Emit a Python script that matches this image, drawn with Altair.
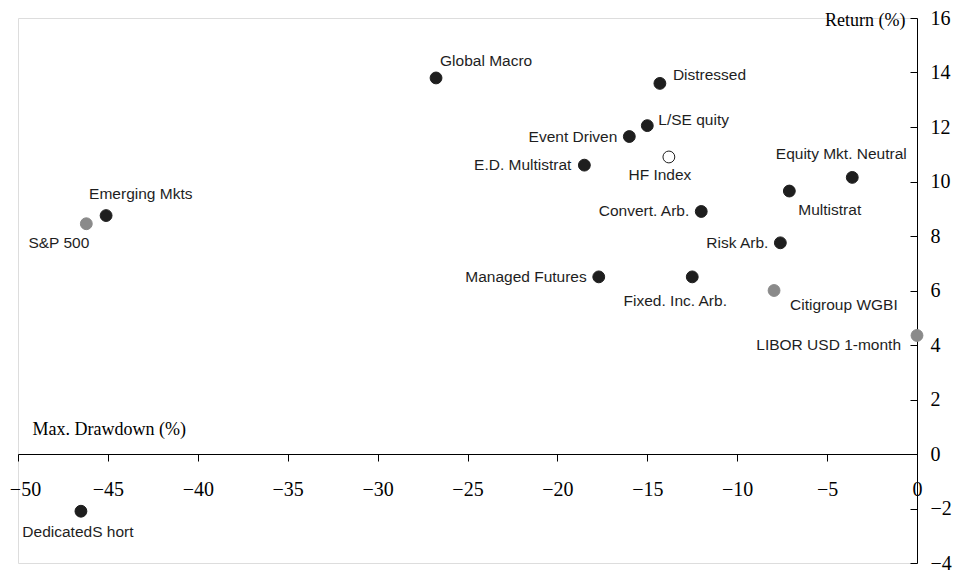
import altair as alt
import pandas as pd

# ---- data ----
names = [
    "Global Macro", "Distressed", "L/SE quity", "Event Driven", "E.D. Multistrat",
    "HF Index", "Convert. Arb.", "Managed Futures", "Fixed. Inc. Arb.", "Risk Arb.",
    "Multistrat", "Equity Mkt. Neutral", "Citigroup WGBI", "LIBOR USD 1-month",
    "Emerging Mkts", "S&P 500", "DedicatedS hort",
]
max_drawdown = [
    -26.75, -14.3, -15.0, -16.0, -18.5,
    -13.8, -12.0, -17.7, -12.5, -7.6,
    -7.1, -3.6, -7.95, 0.0,
    -45.1, -46.2, -46.5,
]
returns = [
    13.8, 13.6, 12.05, 11.65, 10.6,
    10.9, 8.9, 6.5, 6.5, 7.75,
    9.65, 10.15, 6.0, 4.35,
    8.75, 8.45, -2.1,
]
kinds = [
    "strategy", "strategy", "strategy", "strategy", "strategy",
    "index", "strategy", "strategy", "strategy", "strategy",
    "strategy", "strategy", "benchmark", "benchmark",
    "strategy", "benchmark", "strategy",
]
x_ticks = list(range(-50, 1, 5))
y_ticks = list(range(-4, 17, 2))

# label placement (annotation layout: align, dx, dy in pixels)
label_layout = {
    "Global Macro": ("left", 4, -17),
    "Distressed": ("left", 13, -8),
    "L/SE quity": ("left", 11, -6),
    "Event Driven": ("right", -12, 0),
    "E.D. Multistrat": ("right", -13, 0),
    "HF Index": ("center", -9, 18),
    "Convert. Arb.": ("right", -12, 0),
    "Managed Futures": ("right", -12, 0),
    "Fixed. Inc. Arb.": ("center", -17, 24),
    "Risk Arb.": ("right", -12, 0),
    "Multistrat": ("left", 9, 19),
    "Equity Mkt. Neutral": ("center", -11, -23),
    "Citigroup WGBI": ("left", 16, 14),
    "LIBOR USD 1-month": ("right", -16, 10),
    "Emerging Mkts": ("left", -17, -22),
    "S&P 500": ("right", 3, 19),
    "DedicatedS hort": ("center", -3, 21),
}

df = pd.DataFrame({"name": names, "dd": max_drawdown, "ret": returns, "kind": kinds})

W, H = 899, 545
SERIF = "Liberation Serif"
SANS = "Liberation Sans"

x_scale = alt.Scale(domain=[-50, 0], nice=False, zero=False)
y_scale = alt.Scale(domain=[-4, 16], nice=False, zero=False)

x_axis = alt.Axis(
    orient="bottom", offset=-109, values=x_ticks, grid=False,
    domainColor="black", domainWidth=1, tickColor="black", tickSize=7, tickWidth=1,
    labelFont=SERIF, labelFontSize=20, labelColor="black", labelPadding=18,
    labelFlush=False, labelOverlap=False,
    labelOffset={"condition": {"test": "datum.value == -50", "value": 7}, "value": 0},
    title="Max. Drawdown (%)", titleFont=SERIF, titleFontSize=18, titleFontWeight="normal",
    titleColor="black", titleAngle=0, titleAlign="left", titleBaseline="middle",
    titleX=14, titleY=-25,
)
y_axis_left = alt.Axis(
    orient="left", offset=-W, values=y_ticks, grid=False, labels=False,
    domainColor="black", domainWidth=1, tickColor="black", tickSize=7, tickWidth=1,
    title="Return (%)", titleFont=SERIF, titleFontSize=18, titleFontWeight="normal",
    titleColor="black", titleAngle=0, titleAlign="right", titleBaseline="middle",
    titleX=-12, titleY=2,
)
y_axis_right = alt.Axis(
    orient="right", values=y_ticks, grid=False, ticks=False, domain=False,
    labelFont=SERIF, labelFontSize=20, labelColor="black", labelPadding=13,
    labelFlush=False, labelOverlap=False, title=None,
)

base = alt.Chart(df)

points = base.mark_point(filled=False, size=140, strokeWidth=1, opacity=1).encode(
    x=alt.X("dd:Q", scale=x_scale, axis=x_axis),
    y=alt.Y("ret:Q", scale=y_scale, axis=y_axis_left),
    fill=alt.Fill("kind:N", scale=alt.Scale(domain=["strategy", "benchmark", "index"],
                                            range=["#1e1e1e", "#8a8a8a", "#ffffff"]), legend=None),
    stroke=alt.Stroke("kind:N", scale=alt.Scale(domain=["strategy", "benchmark", "index"],
                                                range=["#1e1e1e", "#8a8a8a", "#1e1e1e"]), legend=None),
    fillOpacity=alt.value(1),
)

right_axis_layer = base.mark_point(opacity=0).encode(
    x=alt.X("dd:Q", scale=x_scale, axis=None),
    y=alt.Y("ret:Q", scale=y_scale, axis=y_axis_right),
)

labels = []
for nm in names:
    a, dx, dy = label_layout[nm]
    labels.append(
        base.transform_filter(alt.datum.name == nm).mark_text(
            align=a, baseline="middle", dx=dx, dy=dy, font=SANS, fontSize=15.5, color="#1e1e1e"
        ).encode(
            x=alt.X("dd:Q", scale=x_scale, axis=None),
            y=alt.Y("ret:Q", scale=y_scale, axis=None),
            text="name:N",
        )
    )

chart = alt.layer(points, right_axis_layer, *labels).resolve_axis(
    x="independent", y="independent"
).properties(
    width=W, height=H,
    autosize=alt.AutoSizeParams(type="none"),
    padding={"left": 10, "top": 10, "right": 38, "bottom": 10},
).configure_view(stroke=None).configure(background="white")

chart.save("out.html", embed_options={"renderer": "svg", "actions": False})
